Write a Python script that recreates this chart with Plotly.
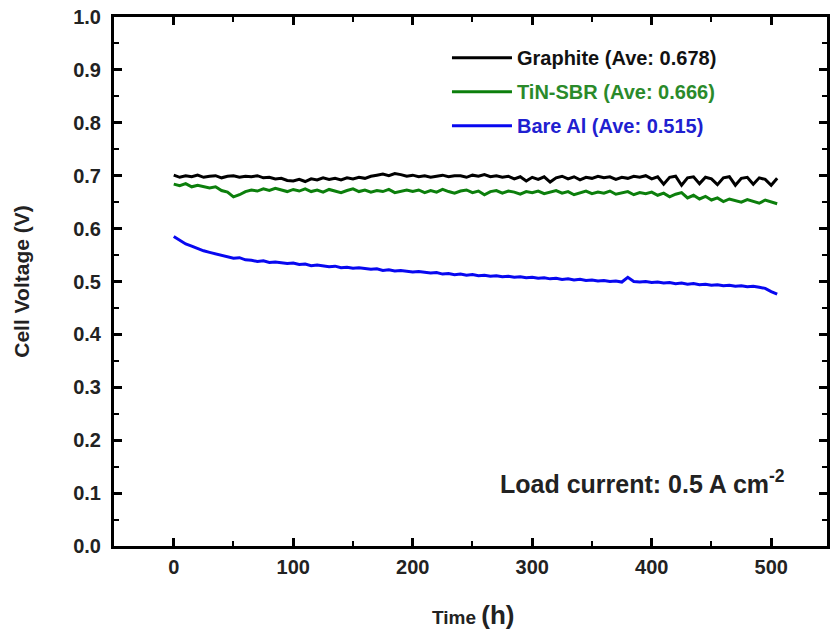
import plotly.graph_objects as go

time_h = [i * 5 for i in range(102)]

graphite = [
    0.701, 0.697, 0.700, 0.698, 0.701, 0.697, 0.699, 0.700, 0.696, 0.699,
    0.700, 0.697, 0.699, 0.698, 0.700, 0.696, 0.697, 0.694, 0.695,
    0.691, 0.690, 0.693, 0.689, 0.694, 0.692, 0.696, 0.693, 0.695, 0.692,
    0.696, 0.694, 0.697, 0.695,
    0.699, 0.701, 0.703, 0.700, 0.704, 0.702, 0.699, 0.701, 0.698, 0.700,
    0.697, 0.699, 0.701, 0.698, 0.700,
    0.700, 0.697, 0.701, 0.699, 0.702, 0.698, 0.700, 0.697, 0.699, 0.694,
    0.698, 0.690, 0.697,
    0.693, 0.698, 0.688, 0.696, 0.699, 0.694, 0.698, 0.692, 0.697, 0.695,
    0.699, 0.696, 0.698, 0.693, 0.697, 0.695, 0.699, 0.697, 0.700, 0.694,
    0.698, 0.684, 0.697, 0.699, 0.682, 0.696, 0.698, 0.685, 0.697, 0.694,
    0.683, 0.696, 0.698, 0.682, 0.695, 0.697, 0.684, 0.696, 0.693, 0.682,
    0.695,
]

tin_sbr = [
    0.684, 0.681, 0.685, 0.679, 0.682, 0.680, 0.677, 0.679, 0.672, 0.669,
    0.660, 0.664, 0.670, 0.673, 0.671, 0.675, 0.672, 0.676, 0.673, 0.670,
    0.674, 0.671, 0.675, 0.670, 0.673, 0.669, 0.674, 0.671, 0.668, 0.672,
    0.675, 0.670, 0.673, 0.669, 0.672, 0.670, 0.674, 0.668, 0.671, 0.673,
    0.670, 0.673, 0.668, 0.672, 0.669, 0.674, 0.670, 0.667, 0.671, 0.673,
    0.668, 0.671, 0.664, 0.670, 0.672, 0.667, 0.671, 0.669, 0.665, 0.670,
    0.668, 0.671, 0.666, 0.669, 0.672, 0.667, 0.670, 0.664, 0.668, 0.671,
    0.666, 0.669, 0.667, 0.671, 0.665, 0.668, 0.670, 0.664, 0.668, 0.666,
    0.669, 0.663, 0.667, 0.660, 0.665, 0.668, 0.658, 0.663, 0.656, 0.661,
    0.654, 0.658, 0.651, 0.656, 0.653, 0.650, 0.655, 0.652, 0.648, 0.654,
    0.650, 0.647,
]

bare_al = [
    0.585, 0.578, 0.571, 0.567, 0.562, 0.558, 0.555, 0.552, 0.549, 0.547,
    0.544, 0.545, 0.541, 0.540, 0.538, 0.539, 0.536, 0.537, 0.535, 0.534,
    0.535, 0.532, 0.533, 0.530, 0.531, 0.529, 0.528, 0.529, 0.526, 0.527,
    0.525, 0.526, 0.524, 0.523, 0.524, 0.521, 0.522, 0.520, 0.521, 0.519,
    0.518, 0.519, 0.517, 0.516, 0.517, 0.514, 0.515, 0.513, 0.514, 0.512,
    0.513, 0.511, 0.512, 0.510, 0.511, 0.509, 0.510, 0.508, 0.509, 0.507,
    0.508, 0.506, 0.507, 0.505, 0.506, 0.504, 0.505, 0.503, 0.504, 0.502,
    0.503, 0.501, 0.502, 0.500, 0.501, 0.499, 0.508, 0.500, 0.499, 0.500,
    0.498, 0.499, 0.497, 0.498, 0.496, 0.497, 0.495, 0.496, 0.494, 0.495,
    0.493, 0.494, 0.492, 0.493, 0.491, 0.492, 0.490, 0.491, 0.489, 0.487,
    0.481, 0.476,
]

series = [
    ("Graphite (Ave: 0.678)", graphite, "#000000", "#111111"),
    ("TiN-SBR (Ave: 0.666)", tin_sbr, "#0c7f0c", "#2a8a2a"),
    ("Bare Al (Ave: 0.515)", bare_al, "#0808f0", "#2020d0"),
]

FONT = "Liberation Sans, Arial, sans-serif"

fig = go.Figure()
for i, (name, vals, lc, tc) in enumerate(series):
    fig.add_trace(go.Scatter(
        x=time_h, y=vals, mode="lines",
        name=f"<span style='color:{tc}'>{name}</span>",
        legendgroup=f"g{i}",
        line=dict(color=lc, width=3),
    ))

axis_common = dict(
    showline=True, linecolor="black", linewidth=3, mirror="allticks",
    ticks="inside", ticklen=8, tickwidth=2.5, tickcolor="black",
    showgrid=False, zeroline=False,
    tickfont=dict(family=FONT, size=20, color="#222222", weight="bold"),
)

fig.update_layout(
    width=830, height=632,
    margin=dict(l=114, r=0, t=17, b=86),
    plot_bgcolor="white", paper_bgcolor="white",
    showlegend=True,
    legend=dict(
        x=0.467, y=0.96, xanchor="left", yanchor="top",
        bgcolor="rgba(0,0,0,0)", traceorder="grouped", tracegroupgap=5,
        font=dict(family=FONT, size=20, weight="bold"),
        itemwidth=60,
    ),
    xaxis=dict(
        range=[-50, 546.7], tickmode="array",
        tickvals=[0, 100, 200, 300, 400, 500],
        ticklabelstandoff=1,
        minor=dict(ticks="inside", ticklen=5, tickwidth=2, tickcolor="black", dtick=50, tick0=0),
        **axis_common,
    ),
    yaxis=dict(
        range=[0, 1.0], tickmode="array",
        tickvals=[0, 0.1, 0.2, 0.3, 0.4, 0.5, 0.6, 0.7, 0.8, 0.9, 1.0],
        ticktext=["0.0", "0.1", "0.2", "0.3", "0.4", "0.5", "0.6", "0.7", "0.8", "0.9", "1.0"],
        ticklabelstandoff=6,
        minor=dict(ticks="inside", ticklen=5, tickwidth=2, tickcolor="black", dtick=0.05, tick0=0),
        title=dict(text="Cell Voltage (V)", standoff=38,
                   font=dict(family=FONT, size=21, color="#222222", weight="bold")),
        **axis_common,
    ),
)

fig.add_annotation(
    xref="paper", yref="paper", x=0.503, y=-0.130,
    text="<b>Time </b><b><span style='font-size:26px'>(h)</span></b>",
    showarrow=False, font=dict(family=FONT, size=19, color="#222222"),
    xanchor="center", yanchor="middle",
)

fig.add_annotation(
    xref="paper", yref="paper", x=0.741, y=0.121,
    text="<b>Load current: 0.5 A cm<sup>-2</sup></b>",
    showarrow=False, font=dict(family=FONT, size=25, color="#222222"),
    xanchor="center", yanchor="middle",
)

fig.write_html("out.html")
